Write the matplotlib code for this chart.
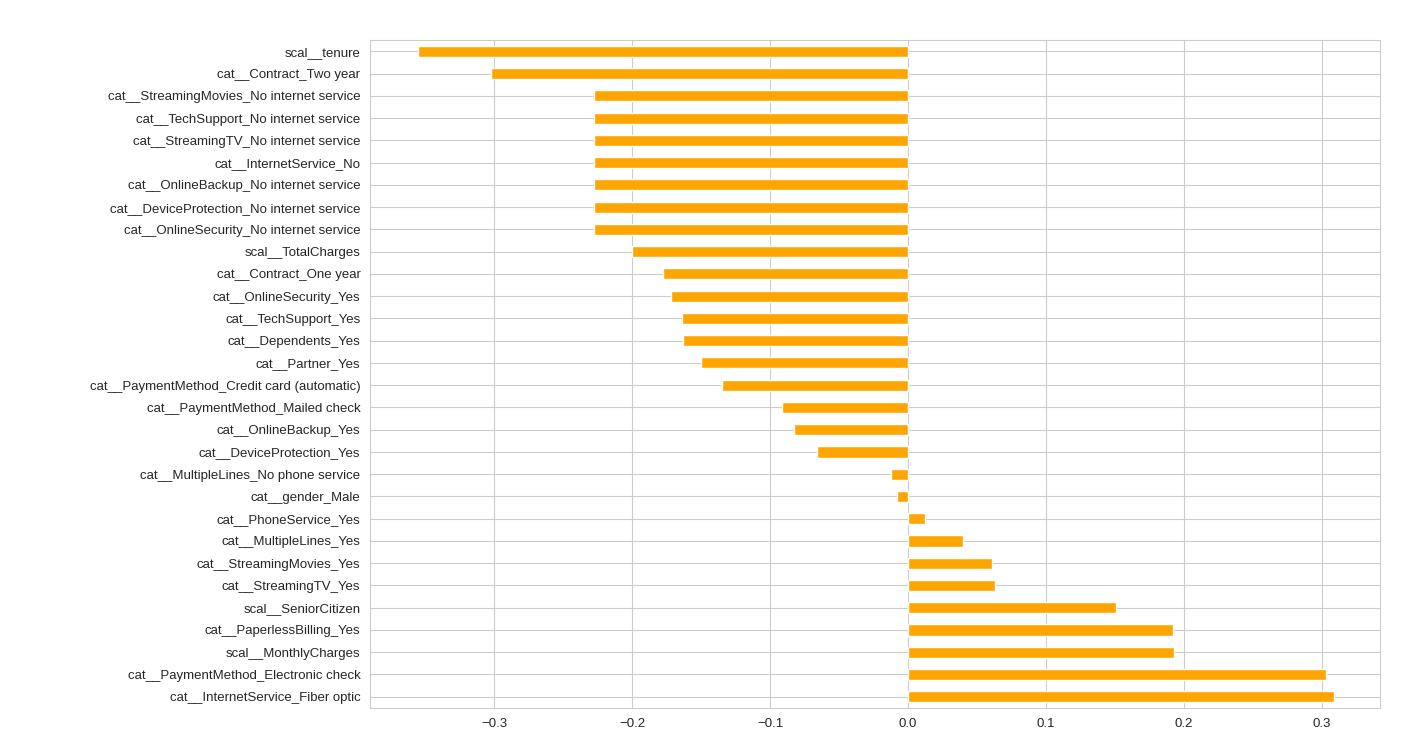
import matplotlib
matplotlib.use("Agg")
import matplotlib.pyplot as plt
import seaborn as sns

features = [
    "scal__tenure", "cat__Contract_Two year", "cat__StreamingMovies_No internet service",
    "cat__TechSupport_No internet service", "cat__StreamingTV_No internet service",
    "cat__InternetService_No", "cat__OnlineBackup_No internet service",
    "cat__DeviceProtection_No internet service", "cat__OnlineSecurity_No internet service",
    "scal__TotalCharges", "cat__Contract_One year", "cat__OnlineSecurity_Yes",
    "cat__TechSupport_Yes", "cat__Dependents_Yes", "cat__Partner_Yes",
    "cat__PaymentMethod_Credit card (automatic)", "cat__PaymentMethod_Mailed check",
    "cat__OnlineBackup_Yes", "cat__DeviceProtection_Yes",
    "cat__MultipleLines_No phone service", "cat__gender_Male", "cat__PhoneService_Yes",
    "cat__MultipleLines_Yes", "cat__StreamingMovies_Yes", "cat__StreamingTV_Yes",
    "scal__SeniorCitizen", "cat__PaperlessBilling_Yes", "scal__MonthlyCharges",
    "cat__PaymentMethod_Electronic check", "cat__InternetService_Fiber optic",
]
coefs = [
    -0.355, -0.302, -0.228, -0.228, -0.228, -0.228, -0.228, -0.228, -0.228,
    -0.200, -0.178, -0.172, -0.164, -0.163, -0.150, -0.135, -0.091, -0.083,
    -0.066, -0.012, -0.008, 0.012, 0.040, 0.061, 0.063, 0.151, 0.192, 0.193,
    0.303, 0.309,
]

sns.set_style("whitegrid")
plt.rcParams['font.family'] = ['Liberation Sans', 'DejaVu Sans']

fig = plt.figure(figsize=(14.18, 7.32), dpi=100)
ax = fig.add_axes([0.261, 0.033, 0.712, 0.912])
ax.barh(range(len(features)), coefs, height=0.5, color="orange")
ax.set_yticks(range(len(features)))
ax.set_yticklabels(features, fontsize=9.5)
ax.tick_params(axis='x', labelsize=9.5)
ax.set_ylim(len(features) - 0.5, -0.5)
ax.set_xlim(-0.39, 0.342)
ax.set_xticks([-0.3, -0.2, -0.1, 0.0, 0.1, 0.2, 0.3])
ax.set_xticklabels(["\u22120.3", "\u22120.2", "\u22120.1", "0.0", "0.1", "0.2", "0.3"])
for s in ax.spines.values():
    s.set_color("#cccccc")
fig.savefig("out.png", dpi=100)
